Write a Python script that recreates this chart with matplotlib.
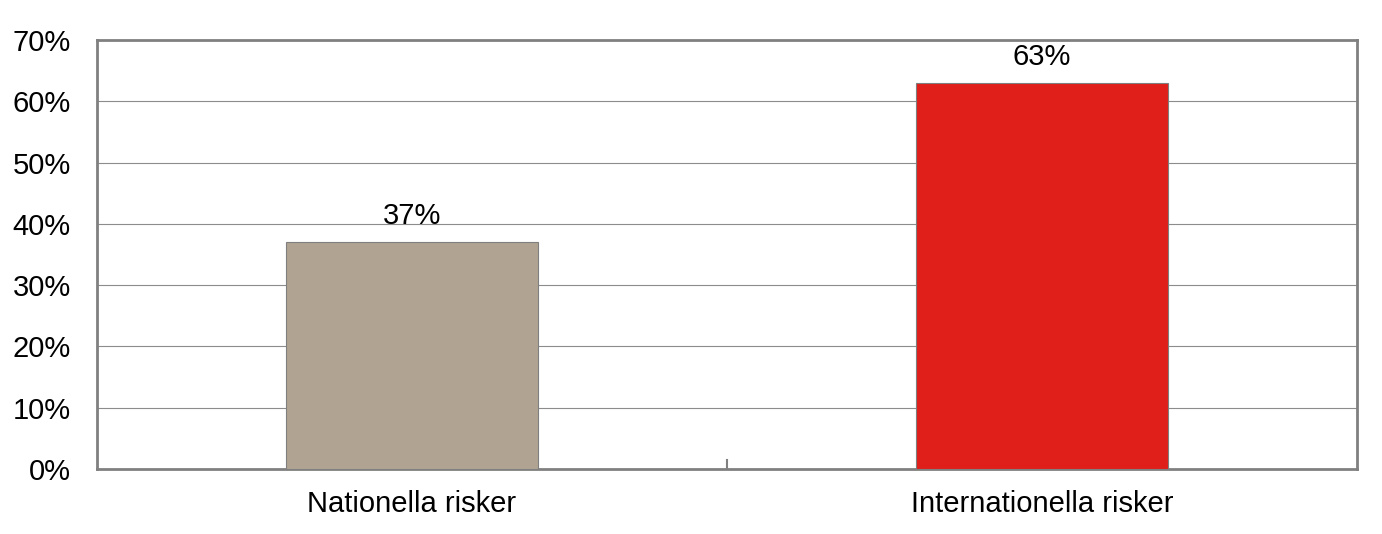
import matplotlib
matplotlib.use("Agg")
import matplotlib.pyplot as plt

categories = ["Nationella risker", "Internationella risker"]
values = [37, 63]
colors = ["#B0A392", "#E01E1A"]
yticks = [0, 10, 20, 30, 40, 50, 60, 70]

plt.rcParams["font.family"] = ["Liberation Sans", "DejaVu Sans"]

fig = plt.figure(figsize=(13.82, 5.34), dpi=100)
ax = fig.add_axes([0.0702, 0.1217, 0.9117, 0.8034])

x = list(range(len(categories)))
bars = ax.bar(x, values, width=0.4, color=colors, edgecolor="#7f7f7f", linewidth=0.8, zorder=3)
for xi, v in zip(x, values):
    ax.text(xi, v + 2.0, f"{v}%", ha="center", va="bottom", fontsize=21, color="black")

ax.set_xlim(-0.5, len(categories) - 0.5)
ax.set_ylim(0, 70)
ax.set_yticks(yticks)
ax.set_yticklabels([f"{t}%" for t in yticks], fontsize=21)
ax.set_xticks(x)
ax.set_xticklabels(categories, fontsize=21)
ax.tick_params(axis="x", length=0, pad=15)
ax.tick_params(axis="y", length=0, pad=19)
ax.yaxis.grid(True, color="#8c8c8c", linewidth=0.8, zorder=0)
for s in ax.spines.values():
    s.set_color("#808080")
    s.set_linewidth(2)
# category separator tick
ax.plot([0.5, 0.5], [0, 1.4], color="#808080", linewidth=1.5, zorder=2)

fig.savefig("out.png", dpi=100)
